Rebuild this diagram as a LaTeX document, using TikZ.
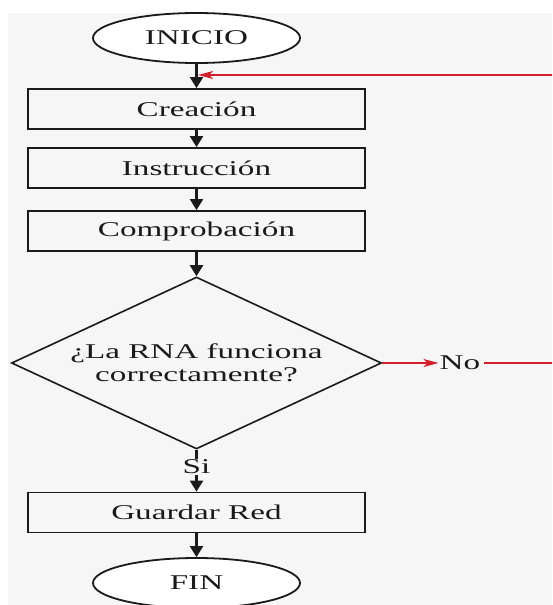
\documentclass[tikz,border=0pt]{standalone}
\usepackage{fontspec}
\setmainfont{Liberation Serif}[FakeStretch=1.58]
\usetikzlibrary{shapes.geometric,arrows.meta}
\definecolor{panel}{HTML}{F6F6F6}
\definecolor{loopred}{HTML}{D0202C}
\definecolor{ink}{HTML}{1A1A1A}
\tikzset{
  every node/.style={font=\fontsize{21}{23.5}\selectfont, text=ink},
  terminal/.style={draw=ink, ellipse, line width=1.8pt, fill=white,
    minimum width=207pt, minimum height=50pt, inner sep=0pt},
  stepbox/.style={draw=ink, rectangle, line width=1.8pt, fill=panel,
    minimum width=337pt, minimum height=40pt, inner sep=0pt},
  decision/.style={draw=ink, diamond, aspect=2.15, line width=1.6pt, fill=panel,
    minimum width=370pt, minimum height=172pt, inner sep=0pt, align=center},
  flow/.style={draw=ink, line width=2.2pt, -{Triangle[length=11pt,width=13pt]}},
  plainflow/.style={draw=ink, line width=2.2pt},
  loop/.style={draw=loopred, line width=1.6pt},
  looparrow/.style={loop, -{Stealth[length=15pt,width=8pt,inset=4pt]}},
  lbl/.style={inner sep=1pt, fill=panel}
}
\begin{document}
\begin{tikzpicture}[x=1pt,y=-1pt]
  % page and grey panel
  \clip (0,0) rectangle (552,605);
  \fill[white] (0,0) rectangle (552,605);
  \fill[panel] (8,13) rectangle (552,605);

  % nodes
  \node[terminal] (inicio) at (196.5,38) {INICIO};
  \node[stepbox] (crea) at (196.5,109) {Creación};
  \node[stepbox] (instr) at (196.5,168) {Instrucción};
  \node[stepbox] (comp) at (196.5,231) {Comprobación};
  \node[decision] (rna) at (196.5,363) {¿La RNA funciona\\correctamente?};
  \node[lbl] (si) at (196.5,467) {Si};
  \node[stepbox] (guardar) at (196.5,512.5) {Guardar Red};
  \node[terminal] (fin) at (196.5,583) {FIN};
  \node[lbl] (no) at (460,363) {No};

  % return point of the retry loop
  \coordinate (join) at (196.5,75);
  \coordinate (farright) at (570,363);
  \coordinate (farup) at (570,75);

  % main flow
  \draw[flow] (inicio.south) -- (crea.north);
  \draw[flow] (crea.south) -- (instr.north);
  \draw[flow] (instr.south) -- (comp.north);
  \draw[flow] (comp.south) -- (rna.north);
  \draw[plainflow] (rna.south) -- (si.north);
  \draw[flow] (si.south) -- (guardar.north);
  \draw[flow] (guardar.south) -- (fin.north);

  % retry loop
  \draw[looparrow] (rna.east) -- (no.west);
  \draw[loop] ([xshift=3pt]no.east) -- (farright) -- (farup);
  \draw[looparrow] (farup) -- ([xshift=1.5pt]join);
\end{tikzpicture}
\end{document}
